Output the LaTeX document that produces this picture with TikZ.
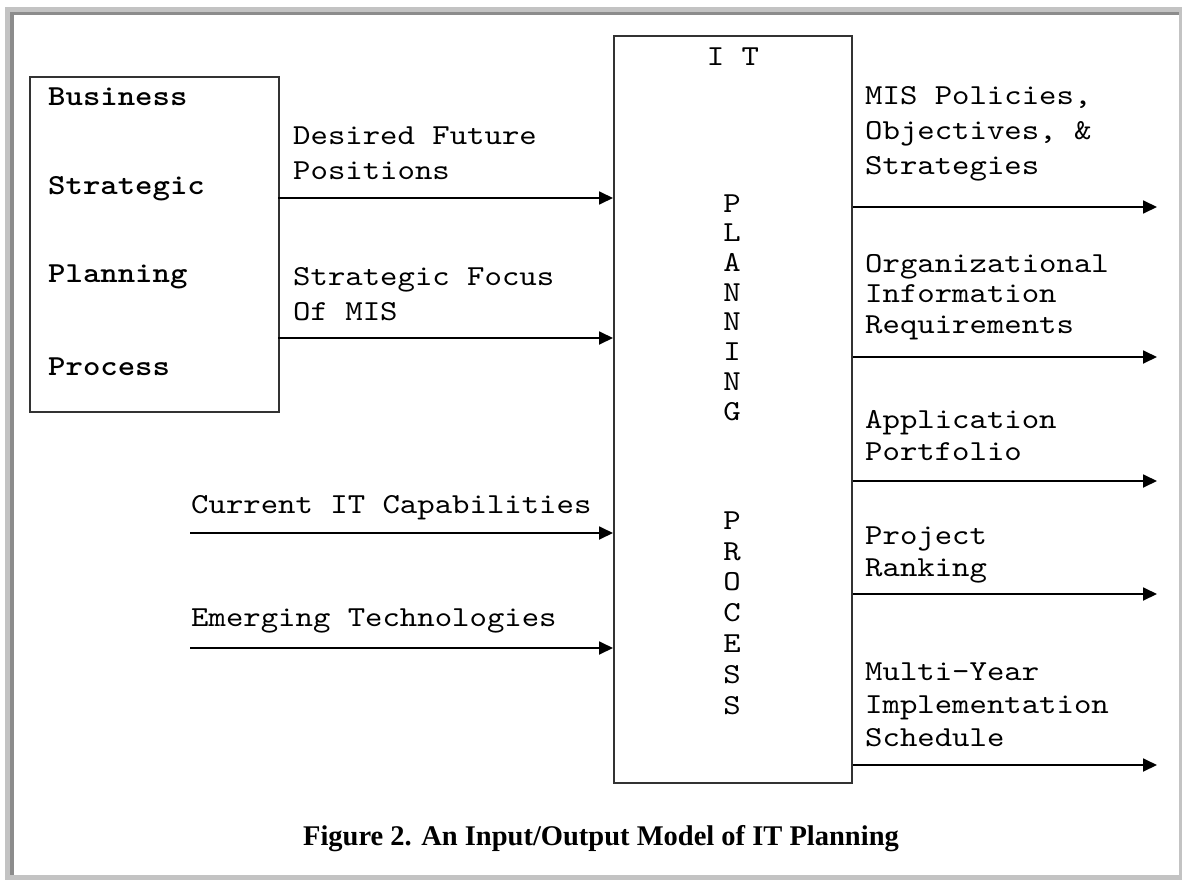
\documentclass[tikz,border=0pt]{standalone}
\usepackage{fontspec}
\usetikzlibrary{arrows.meta}
\newfontfamily\cour{lmmono10-regular.otf}[FakeStretch=1.143]
\newfontfamily\courb{lmmonolt10-bold.otf}[FakeStretch=1.143]
\newfontfamily\capfont{Liberation Serif}
\definecolor{lightframe}{HTML}{C3C3C3}
\definecolor{darkframe}{HTML}{8C8C8C}
\definecolor{boxline}{HTML}{333333}
\tikzset{
  blockbox/.style={draw=boxline, line width=1.8pt, inner sep=0pt, fill=white},
  arr/.style={line width=1.8pt, -{Triangle[length=14pt,width=13pt]}},
  lbl/.style={font={\cour\fontsize{29}{35}\selectfont}, align=left, anchor=base west, inner sep=0pt},
  lblb/.style={font={\courb\fontsize{29}{35}\selectfont}, anchor=base west, inner sep=0pt},
  vert/.style={font={\cour\fontsize{29}{29.7}\selectfont}, align=center, anchor=base, inner sep=0pt},
}
\begin{document}
\begin{tikzpicture}[x=1pt,y=-1pt]
\useasboundingbox (0,0) rectangle (1182,880);
\fill[white] (0,0) rectangle (1182,880);
\fill[lightframe] (5,7) rectangle (1182,880);
\fill[darkframe] (10,12) rectangle (1179,875);
\fill[white] (14,15) rectangle (1179,875);
% boxes
\node[blockbox, minimum width=249pt, minimum height=335pt, anchor=north west] (bsp) at (29,76) {};
\node[blockbox, minimum width=238pt, minimum height=747pt, anchor=north west] (it) at (613,35) {};
% business box text
\node[lblb] (t1) at (48,106) {Business};
\node[lblb] (t2) at (48,194) {Strategic};
\node[lblb] (t3) at (48,282) {Planning};
\node[lblb] (t4) at (48,375) {Process};
% IT planning text (anchor base = last line)
\node[font={\cour\fontsize{29}{35}\selectfont}, anchor=base, inner sep=0pt] (itt) at (733,66) {I T};
\node[vert] (pl) at (732,420) {P\\L\\A\\N\\N\\I\\N\\G};
\node[vert, font={\cour\fontsize{29}{30.8}\selectfont}] (pr) at (732,714) {P\\R\\O\\C\\E\\S\\S};
% inputs
\coordinate (a1) at (278,198);
\coordinate (a2) at (278,338);
\coordinate (a3) at (190,533);
\coordinate (a4) at (190,648);
\node[lbl] (l1) at (293,179) {Desired Future\\Positions};
\node[lbl] (l2) at (293,320) {Strategic Focus\\Of MIS};
\node[lbl] (l3) at (191,513) {Current IT Capabilities};
\node[lbl] (l4) at (191,626) {Emerging Technologies};
\draw[arr] (a1) -- (a1 -| it.west);
\draw[arr] (a2) -- (a2 -| it.west);
\draw[arr] (a3) -- (a3 -| it.west);
\draw[arr] (a4) -- (a4 -| it.west);
% outputs
\coordinate (o1) at (1157,207);
\coordinate (o2) at (1157,357);
\coordinate (o3) at (1157,481);
\coordinate (o4) at (1157,594);
\coordinate (o5) at (1157,765);
\node[lbl] (m1) at (865,174) {MIS Policies,\\Objectives, \&\\Strategies};
\node[lbl, font={\cour\fontsize{29}{30.5}\selectfont}] (m2) at (865,333) {Organizational\\Information\\Requirements};
\node[lbl, font={\cour\fontsize{29}{31.5}\selectfont}] (m3) at (865,460) {Application\\Portfolio};
\node[lbl, font={\cour\fontsize{29}{32}\selectfont}] (m4) at (865,576) {Project\\Ranking};
\node[lbl, font={\cour\fontsize{29}{33}\selectfont}] (m5) at (865,746) {Multi-Year\\Implementation\\Schedule};
\draw[arr] (o1 -| it.east) -- (o1);
\draw[arr] (o2 -| it.east) -- (o2);
\draw[arr] (o3 -| it.east) -- (o3);
\draw[arr] (o4 -| it.east) -- (o4);
\draw[arr] (o5 -| it.east) -- (o5);
% caption
\node[font={\capfont\bfseries\fontsize{28.5}{32}\selectfont}, anchor=base, inner sep=0pt] (cap) at (601,845) {Figure 2. An Input/Output Model of IT Planning};
\end{tikzpicture}
\end{document}
